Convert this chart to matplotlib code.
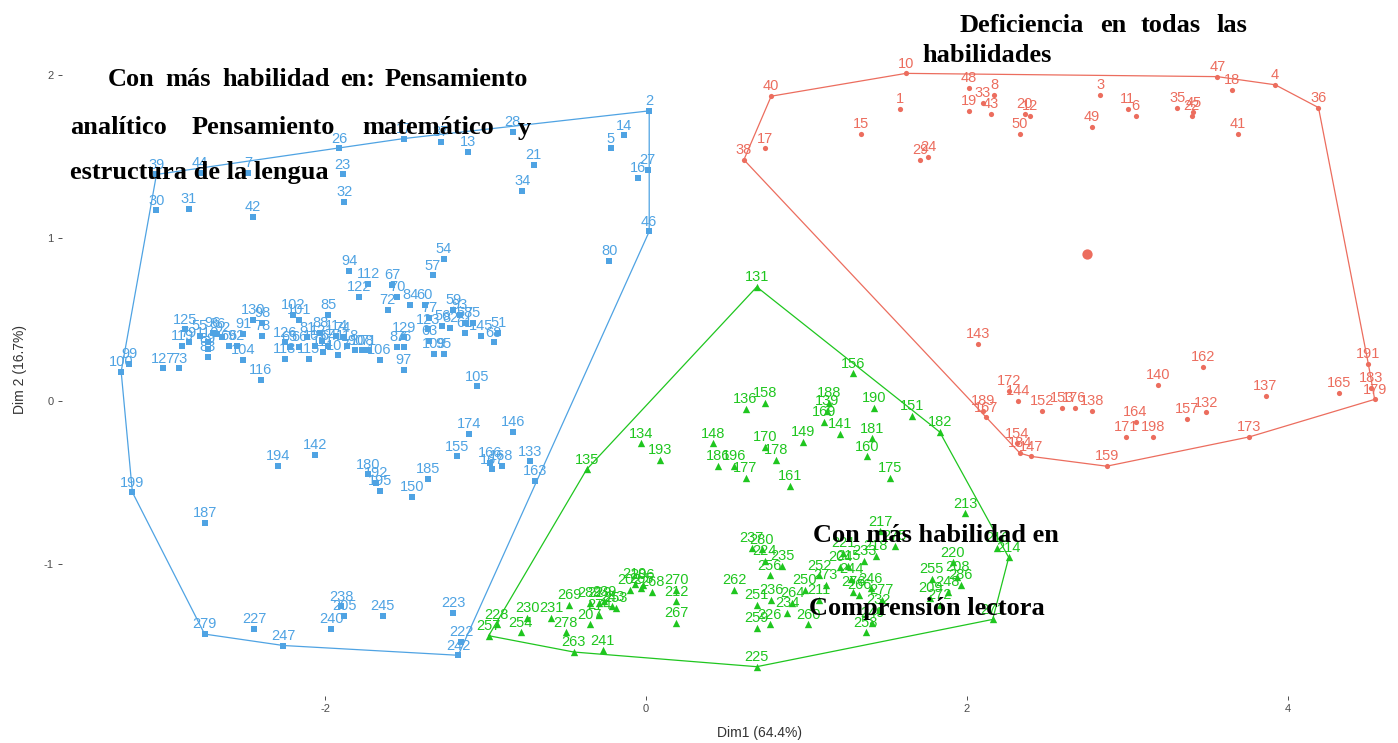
import numpy as np
import matplotlib
matplotlib.use("Agg")
import matplotlib.pyplot as plt

plt.rcParams["axes.unicode_minus"] = False
plt.rcParams["font.family"] = ["Liberation Sans", "DejaVu Sans"]

# cluster 1 (blue squares)
blue_labels = ["100", "99", "39", "44", "7", "30", "31", "42", "26", "23",
               "32", "17", "37", "13", "28", "21", "34", "5", "14", "2",
               "27", "16", "46", "80", "54", "57", "94", "122", "112", "67",
               "72", "70", "84", "60", "77", "123", "63", "56", "59", "93",
               "58", "75", "82", "61", "145", "51", "68", "95", "109", "105",
               "174", "146", "155", "166", "167", "168", "133", "163", "125", "119",
               "79", "55", "96", "86", "110", "89", "83", "92", "69", "62",
               "104", "91", "130", "98", "78", "116", "126", "113", "102", "101",
               "65", "66", "81", "115", "88", "85", "64", "114", "74", "107",
               "108", "71", "90", "106", "97", "87", "76", "129", "194", "142",
               "180", "192", "195", "185", "150", "199", "187", "279", "227", "247",
               "240", "238", "205", "245", "223", "222", "242", "73", "127", "103",
               "111", "118", "121"]
blue_x = [-3.27, -3.22, -3.05, -2.78, -2.48, -3.05, -2.85, -2.45, -1.91, -1.89,
          -1.88, -1.51, -1.28, -1.11, -0.83, -0.70, -0.77, -0.22, -0.14, 0.02,
          0.01, -0.05, 0.02, -0.23, -1.26, -1.33, -1.85, -1.79, -1.73, -1.58,
          -1.61, -1.55, -1.47, -1.38, -1.35, -1.36, -1.35, -1.27, -1.20, -1.16,
          -1.13, -1.08, -1.22, -1.13, -1.03, -0.92, -0.95, -1.26, -1.32, -1.05,
          -1.10, -0.83, -1.18, -0.97, -0.96, -0.90, -0.72, -0.69, -2.87, -2.89,
          -2.85, -2.78, -2.70, -2.67, -2.73, -2.73, -2.73, -2.64, -2.60, -2.55,
          -2.51, -2.51, -2.45, -2.39, -2.39, -2.40, -2.25, -2.25, -2.20, -2.16,
          -2.22, -2.16, -2.11, -2.10, -2.03, -1.98, -1.98, -1.93, -1.89, -1.92,
          -1.77, -1.73, -1.81, -1.66, -1.51, -1.55, -1.51, -1.51, -2.29, -2.06,
          -1.73, -1.68, -1.66, -1.36, -1.46, -3.20, -2.75, -2.75, -2.44, -2.26,
          -1.96, -1.90, -1.88, -1.64, -1.20, -1.15, -1.17, -2.91, -3.01, -2.06,
          -2.01, -1.86, -2.02]
blue_y = [0.18, 0.23, 1.39, 1.40, 1.40, 1.17, 1.18, 1.13, 1.55, 1.39,
          1.22, 1.61, 1.59, 1.53, 1.65, 1.45, 1.29, 1.55, 1.63, 1.78,
          1.42, 1.37, 1.04, 0.86, 0.87, 0.77, 0.80, 0.64, 0.72, 0.71,
          0.56, 0.64, 0.59, 0.59, 0.51, 0.44, 0.37, 0.46, 0.56, 0.53,
          0.48, 0.48, 0.45, 0.42, 0.40, 0.42, 0.36, 0.29, 0.29, 0.09,
          -0.20, -0.19, -0.34, -0.38, -0.42, -0.40, -0.37, -0.49, 0.44, 0.34,
          0.36, 0.40, 0.42, 0.41, 0.36, 0.32, 0.27, 0.39, 0.34, 0.34,
          0.25, 0.41, 0.50, 0.48, 0.40, 0.13, 0.36, 0.26, 0.53, 0.50,
          0.33, 0.33, 0.39, 0.26, 0.42, 0.53, 0.34, 0.40, 0.39, 0.28,
          0.31, 0.31, 0.31, 0.25, 0.19, 0.33, 0.33, 0.39, -0.40, -0.33,
          -0.45, -0.50, -0.55, -0.48, -0.59, -0.56, -0.75, -1.43, -1.40, -1.50,
          -1.40, -1.26, -1.32, -1.32, -1.30, -1.48, -1.56, 0.20, 0.20, 0.34,
          0.30, 0.34, 0.37]

# cluster 2 (red dots)
red_labels = ["38", "40", "10", "17", "1", "15", "29", "24", "48", "33",
              "8", "19", "43", "20", "12", "50", "3", "11", "6", "49",
              "35", "45", "22", "47", "18", "4", "36", "41", "143", "172",
              "144", "189", "167", "152", "153", "176", "138", "154", "184", "147",
              "162", "140", "164", "171", "198", "157", "132", "137", "173", "159",
              "165", "191", "183", "179"]
red_x = [0.61, 0.78, 1.62, 0.74, 1.58, 1.34, 1.71, 1.76, 2.01, 2.10,
         2.17, 2.01, 2.15, 2.36, 2.39, 2.33, 2.83, 3.00, 3.05, 2.78,
         3.31, 3.41, 3.40, 3.56, 3.65, 3.92, 4.19, 3.69, 2.07, 2.26,
         2.32, 2.10, 2.12, 2.47, 2.59, 2.67, 2.78, 2.31, 2.33, 2.40,
         3.47, 3.19, 3.05, 2.99, 3.16, 3.37, 3.49, 3.86, 3.76, 2.87,
         4.32, 4.50, 4.52, 4.54]
red_y = [1.48, 1.87, 2.01, 1.55, 1.79, 1.64, 1.48, 1.50, 1.92, 1.83,
         1.88, 1.78, 1.76, 1.76, 1.75, 1.64, 1.88, 1.79, 1.75, 1.68,
         1.80, 1.77, 1.75, 1.99, 1.91, 1.94, 1.80, 1.64, 0.35, 0.06,
         0.00, -0.06, -0.10, -0.06, -0.04, -0.04, -0.06, -0.26, -0.32, -0.34,
         0.21, 0.10, -0.13, -0.22, -0.22, -0.11, -0.07, 0.03, -0.22, -0.40,
         0.05, 0.23, 0.08, 0.01]
red_center = (2.75, 0.90)

# cluster 3 (green triangles)
green_labels = ["131", "136", "134", "193", "135", "148", "186", "196", "177", "158",
                "156", "188", "139", "169", "141", "190", "151", "182", "149", "181",
                "160", "175", "170", "178", "161", "213", "217", "275", "214", "216",
                "220", "255", "208", "286", "248", "209", "272", "271", "225", "228",
                "257", "254", "230", "231", "278", "269", "207", "263", "241", "289",
                "229", "239", "243", "253", "274", "219", "265", "206", "202", "268",
                "270", "212", "267", "262", "237", "280", "224", "235", "251", "236",
                "264", "250", "273", "252", "204", "215", "233", "218", "221", "244",
                "246", "266", "277", "232", "249", "258", "226", "259", "260", "234",
                "276", "211", "256"]
green_x = [0.69, 0.62, -0.03, 0.09, -0.37, 0.42, 0.45, 0.55, 0.62, 0.74,
           1.29, 1.14, 1.13, 1.11, 1.21, 1.42, 1.66, 1.83, 0.98, 1.41,
           1.38, 1.52, 0.74, 0.81, 0.90, 1.99, 1.46, 1.55, 2.26, 2.19,
           1.91, 1.78, 1.94, 1.96, 1.88, 1.77, 1.83, 2.16, 0.69, -0.93,
           -0.98, -0.78, -0.74, -0.59, -0.50, -0.48, -0.35, -0.45, -0.27, -0.35,
           -0.29, -0.26, -0.21, -0.19, -0.29, -0.07, -0.03, -0.02, -0.10, 0.04,
           0.19, 0.19, 0.19, 0.55, 0.66, 0.72, 0.74, 0.85, 0.69, 0.78,
           0.91, 0.99, 1.12, 1.08, 1.21, 1.26, 1.36, 1.43, 1.23, 1.28,
           1.40, 1.33, 1.47, 1.45, 1.41, 1.37, 0.77, 0.69, 1.01, 0.88,
           1.29, 1.08, 0.77]
green_y = [0.70, -0.05, -0.26, -0.36, -0.42, -0.26, -0.40, -0.40, -0.47, -0.01,
           0.17, -0.01, -0.06, -0.13, -0.20, -0.04, -0.09, -0.19, -0.25, -0.23,
           -0.34, -0.47, -0.28, -0.36, -0.52, -0.69, -0.80, -0.89, -0.96, -0.90,
           -0.99, -1.09, -1.08, -1.13, -1.17, -1.21, -1.25, -1.34, -1.63, -1.37,
           -1.44, -1.42, -1.33, -1.33, -1.42, -1.25, -1.37, -1.54, -1.53, -1.24,
           -1.24, -1.23, -1.26, -1.27, -1.31, -1.12, -1.15, -1.13, -1.16, -1.17,
           -1.16, -1.23, -1.36, -1.16, -0.90, -0.91, -0.98, -1.01, -1.25, -1.22,
           -1.24, -1.16, -1.13, -1.07, -1.02, -1.01, -0.98, -0.95, -0.93, -1.09,
           -1.15, -1.19, -1.22, -1.28, -1.36, -1.42, -1.37, -1.39, -1.37, -1.30,
           -1.17, -1.22, -1.07]

x_ticks = [-2, 0, 2, 4]
y_ticks = [-1, 0, 1, 2]

BLUE = "#4FA3E3"
RED = "#EC6D5E"
GREEN = "#1FC61F"

W, H = 1398, 743


def convex_hull(xs, ys):
    pts = sorted(set(zip(xs, ys)))

    def cross(o, a, b):
        return (a[0] - o[0]) * (b[1] - o[1]) - (a[1] - o[1]) * (b[0] - o[0])

    lower, upper = [], []
    for p in pts:
        while len(lower) >= 2 and cross(lower[-2], lower[-1], p) <= 0:
            lower.pop()
        lower.append(p)
    for p in reversed(pts):
        while len(upper) >= 2 and cross(upper[-2], upper[-1], p) <= 0:
            upper.pop()
        upper.append(p)
    hull = lower[:-1] + upper[:-1]
    hull.append(hull[0])
    return np.array(hull)


fig = plt.figure(figsize=(W / 100, H / 100), dpi=100)
ax = fig.add_axes([62 / W, 47 / H, (W - 62) / W, 696 / H])

clusters = [
    (blue_x, blue_y, blue_labels, BLUE, "s", 20),
    (red_x, red_y, red_labels, RED, "o", 14),
    (green_x, green_y, green_labels, GREEN, "^", 28),
]

for xs, ys, labs, col, mk, size in clusters:
    hull = convex_hull(xs, ys)
    ax.plot(hull[:, 0], hull[:, 1], color=col, lw=0.9, zorder=1)
    ax.scatter(xs, ys, marker=mk, s=size, color=col, linewidths=0, zorder=2)
    for lab, x, y in zip(labs, xs, ys):
        ax.annotate(lab, (x, y), xytext=(0, 2), textcoords="offset points",
                    ha="center", va="bottom", fontsize=10.5, color=col, zorder=3)

ax.scatter([red_center[0]], [red_center[1]], marker="o", s=55, color=RED,
           linewidths=0, zorder=2)

ax.set_xlim((62 - 646) / 160.5, (W - 646) / 160.5)
ax.set_ylim((401 - 696) / 163, 401 / 163)
ax.set_xticks(x_ticks)
ax.set_yticks(y_ticks)
ax.tick_params(length=3, width=0.6, color="#333333", labelsize=8,
               labelcolor="#4d4d4d", pad=3)
for sp in ax.spines.values():
    sp.set_visible(False)
ax.patch.set_alpha(0)

fig.text(760 / W, 1 - 733 / H, "Dim1 (64.4%)", ha="center", va="center",
         fontsize=10, color="#333333")
fig.text(20 / W, 1 - 370 / H, "Dim 2 (16.7%)", ha="center", va="center",
         rotation=90, fontsize=10, color="#333333")


def note(px, py, s):
    fig.text(px / W, 1 - py / H, s, ha="left", va="center", fontsize=19,
             family="Liberation Serif", weight="bold", color="black", zorder=10)


# annotation words (justified lines are placed word by word)
note(108, 80, "Con")
note(165, 80, "más")
note(222, 80, "habilidad")
note(340, 80, "en:")
note(385, 80, "Pensamiento")
note(70, 128, "analítico")
note(192, 128, "Pensamiento")
note(362, 128, "matemático")
note(518, 128, "y")
note(70, 173, "estructura de la lengua")

note(960, 25, "Deficiencia")
note(1100, 25, "en")
note(1141, 25, "todas")
note(1216, 25, "las")
note(922, 55, "habilidades")

note(813, 535, "Con más habilidad en")
note(809, 608, "Comprensión lectora")

fig.savefig("out.png", dpi=100)
